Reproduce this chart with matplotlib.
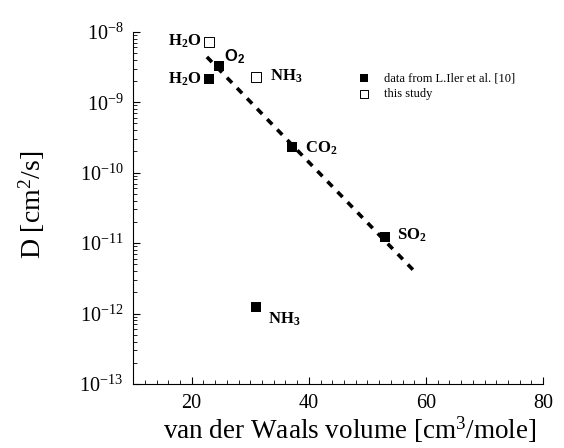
import matplotlib
matplotlib.use("Agg")
import matplotlib.pyplot as plt
from matplotlib.ticker import LogLocator, MultipleLocator, LogFormatterMathtext, FixedLocator, NullFormatter

plt.rcParams['font.family'] = ['Liberation Serif', 'DejaVu Serif']
plt.rcParams['mathtext.fontset'] = 'custom'
plt.rcParams['mathtext.rm'] = 'Liberation Serif'
plt.rcParams['mathtext.it'] = 'Liberation Serif:italic'
plt.rcParams['mathtext.bf'] = 'Liberation Serif:bold'
plt.rcParams['mathtext.default'] = 'regular'

# data
iler_names = ["H2O", "O2", "CO2", "SO2", "NH3"]
iler_vol = [22.9, 24.6, 37.2, 53.0, 30.9]
iler_D = [2.15e-9, 3.3e-9, 2.33e-10, 1.23e-11, 1.24e-12]
study_names = ["H2O", "NH3"]
study_vol = [22.9, 30.9]
study_D = [7.2e-9, 2.3e-9]
fit_vol = [22.6, 58.0]
fit_D = [4.4e-9, 4.0e-12]
x_ticks = [20, 40, 60, 80]
y_ticks = [1e-13, 1e-12, 1e-11, 1e-10, 1e-9, 1e-8]

fig = plt.figure(figsize=(5.64, 4.48), dpi=100)
ax = fig.add_axes([0.236, 0.143, 0.727, 0.786])

ax.plot(fit_vol, fit_D, linestyle=(0, (2.0, 2.0)), color='black', lw=2.6, zorder=2)
ax.scatter(iler_vol, iler_D, marker='s', s=50, color='black', linewidths=0, zorder=3,
           label='data from L.Iler et al. [10]')
ax.scatter(study_vol, study_D, marker='s', s=42, facecolor='white',
           edgecolor='black', linewidths=0.7, zorder=3, label='this study')

ax.set_yscale('log')
ax.set_xlim(10, 80)
ax.set_ylim(1e-13, 1e-8)
ax.set_xticks(x_ticks)
ax.xaxis.set_minor_locator(MultipleLocator(2))
ax.yaxis.set_major_locator(FixedLocator(y_ticks))
minor = [m * 10.0 ** e for e in range(-13, -8) for m in range(2, 10)]
ax.yaxis.set_minor_locator(FixedLocator(minor))
ax.yaxis.set_major_formatter(LogFormatterMathtext())
ax.yaxis.set_minor_formatter(NullFormatter())
ax.tick_params(which='major', direction='in', length=5, width=0.8, labelsize=14.5, pad=7)
ax.tick_params(which='minor', direction='in', length=3, width=0.6)
for s in ['top', 'right']:
    ax.spines[s].set_visible(False)

ax.set_xlabel('van der Waals volume [cm$^3$/mole]', fontsize=19.5)
ax.set_ylabel('D [cm$^2$/s]', fontsize=20)
ax.xaxis.set_label_coords(0.527, -0.087)
ax.yaxis.set_label_coords(-0.21, 0.51)

lab = dict(fontsize=12, fontweight='bold', va='center')
ax.text(21.6, 7.3e-9, 'H$_2$O', ha='right', **lab)
ax.text(21.6, 2.1e-9, 'H$_2$O', ha='right', **lab)
ax.text(25.5, 4.4e-9, 'O$_2$', ha='left', fontsize=12, fontweight='bold', va='center',
        family=['Liberation Sans'])
ax.text(33.3, 2.35e-9, 'NH$_3$', ha='left', **lab)
ax.text(39.3, 2.25e-10, 'CO$_2$', ha='left', **lab)
ax.text(55.1, 1.3e-11, 'SO$_2$', ha='left', **lab)
ax.text(33.1, 8.4e-13, 'NH$_3$', ha='left', **lab)

ax.legend(loc='upper left', bbox_to_anchor=(0.52, 0.9), frameon=False, fontsize=9,
          handletextpad=0.6, labelspacing=0.35, markerscale=0.85, borderaxespad=0)

fig.savefig('out.png', dpi=100)
